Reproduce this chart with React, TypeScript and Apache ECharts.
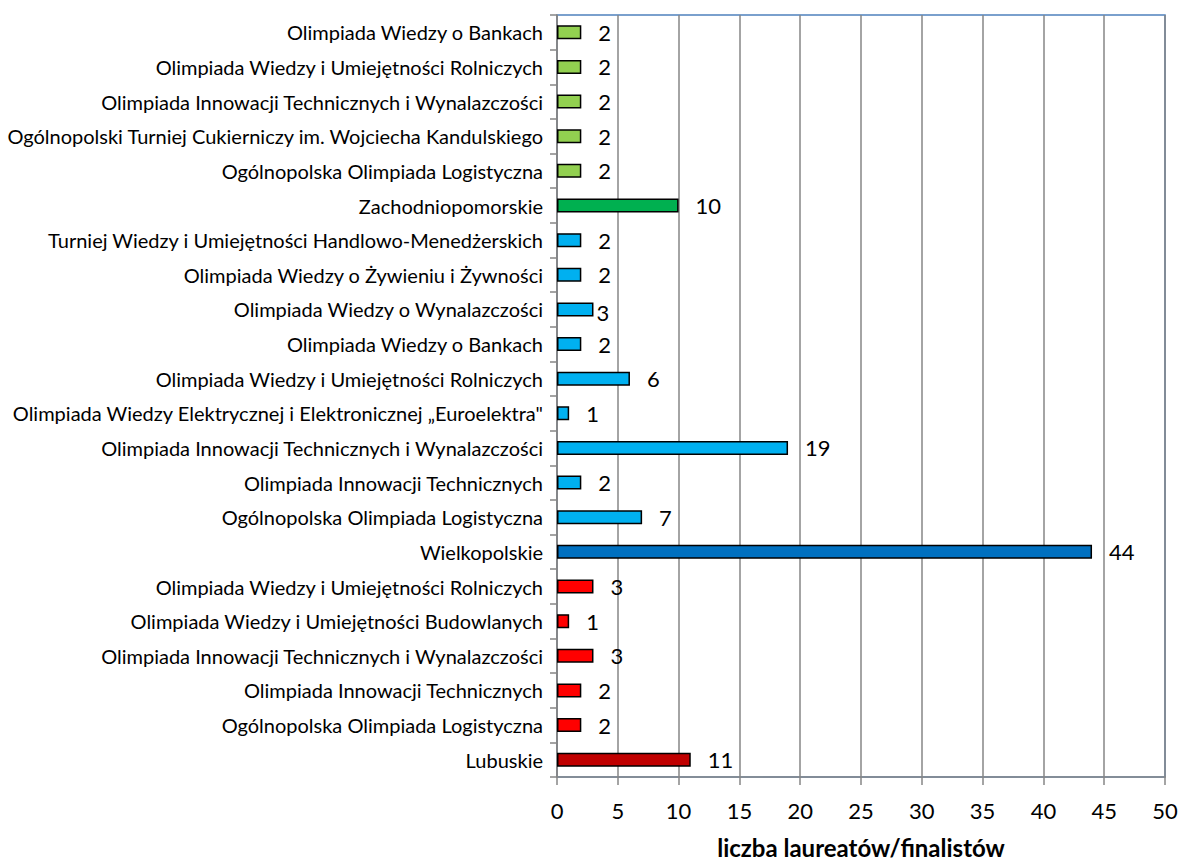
import React, { useEffect, useRef } from "react";
import * as echarts from "echarts";

// bottom to top
const categories: string[] = [
  "Lubuskie",
  "Ogólnopolska Olimpiada Logistyczna",
  "Olimpiada Innowacji Technicznych",
  "Olimpiada Innowacji Technicznych i Wynalazczości",
  "Olimpiada Wiedzy i Umiejętności Budowlanych",
  "Olimpiada Wiedzy i Umiejętności Rolniczych",
  "Wielkopolskie",
  "Ogólnopolska Olimpiada Logistyczna",
  "Olimpiada Innowacji Technicznych",
  "Olimpiada Innowacji Technicznych i Wynalazczości",
  "Olimpiada Wiedzy Elektrycznej i Elektronicznej „Euroelektra\"",
  "Olimpiada Wiedzy i Umiejętności Rolniczych",
  "Olimpiada Wiedzy o Bankach",
  "Olimpiada Wiedzy o Wynalazczości",
  "Olimpiada Wiedzy o Żywieniu i Żywności",
  "Turniej Wiedzy i Umiejętności Handlowo-Menedżerskich",
  "Zachodniopomorskie",
  "Ogólnopolska Olimpiada Logistyczna",
  "Ogólnopolski Turniej Cukierniczy im. Wojciecha Kandulskiego",
  "Olimpiada Innowacji Technicznych i Wynalazczości",
  "Olimpiada Wiedzy i Umiejętności Rolniczych",
  "Olimpiada Wiedzy o Bankach",
];

const values: number[] = [11, 2, 2, 3, 1, 3, 44, 7, 2, 19, 1, 6, 2, 3, 2, 2, 10, 2, 2, 2, 2, 2];

// colour group for each bar
const groups: string[] = [
  "darkred", "red", "red", "red", "red", "red",
  "blue", "lightblue", "lightblue", "lightblue", "lightblue", "lightblue", "lightblue", "lightblue", "lightblue", "lightblue",
  "green", "lightgreen", "lightgreen", "lightgreen", "lightgreen", "lightgreen",
];

const xTicks = { min: 0, max: 50, interval: 5 };
const axisTitle = "liczba laureatów/finalistów";

const palette: Record<string, string> = {
  darkred: "#C00000",
  red: "#FF0000",
  blue: "#0070C0",
  lightblue: "#00B0F0",
  green: "#00B050",
  lightgreen: "#92D050",
};

// index of the label that sits against its bar end in the original
const shiftedLabel = 13;

export default function App() {
  const ref = useRef<HTMLDivElement>(null);
  useEffect(() => {
    if (!ref.current) return;
    const chart = echarts.init(ref.current, null, { renderer: "svg" });
    const font = "Lato, 'Open Sans', sans-serif";
    chart.setOption({
      animation: false,
      grid: {
        left: 557,
        right: 16,
        top: 15,
        bottom: 88,
        outerBoundsMode: "none",
        containLabel: false,
        show: true,
        borderColor: "#4F81BD",
        borderWidth: 1.5,
        backgroundColor: "transparent",
      },
      xAxis: {
        type: "value",
        min: xTicks.min,
        max: xTicks.max,
        interval: xTicks.interval,
        name: axisTitle,
        nameLocation: "middle",
        nameGap: 58,
        nameTextStyle: { fontFamily: font, fontSize: 24, fontWeight: "bold", color: "#000" },
        axisLine: { show: true, lineStyle: { color: "#868686", width: 1.5 } },
        axisTick: { show: true, length: 8, inside: false, lineStyle: { color: "#868686", width: 1.5 } },
        axisLabel: { fontFamily: font, fontSize: 22, color: "#000", margin: 22 },
        splitLine: { show: true, lineStyle: { color: "#868686", width: 1.5 } },
      },
      yAxis: {
        type: "category",
        data: categories.map((_, i) => String(i)),
        axisLine: { show: true, lineStyle: { color: "#868686", width: 1.5 } },
        axisTick: { show: true, length: 7, lineStyle: { color: "#868686", width: 1.5 } },
        axisLabel: {
          fontFamily: font,
          fontSize: 20,
          color: "#000",
          margin: 14,
          interval: 0,
          formatter: (v: string) => categories[Number(v)],
        },
        splitLine: { show: false },
      },
      series: [
        {
          type: "bar",
          barWidth: 14,
          data: values.map((v, i) => ({
            value: v,
            itemStyle: { color: palette[groups[i]], borderColor: "#000", borderWidth: 1.5 },
            label: i === shiftedLabel ? { offset: [-14, 3] } : undefined,
          })),
          label: {
            show: true,
            position: "right",
            distance: 17,
            fontFamily: font,
            fontSize: 22,
            color: "#000",
          },
        },
      ],
    });
    return () => chart.dispose();
  }, []);
  return (
    <div
      ref={ref}
      style={{ position: "absolute", left: 0, top: 0, width: 1181, height: 865 }}
    />
  );
}
